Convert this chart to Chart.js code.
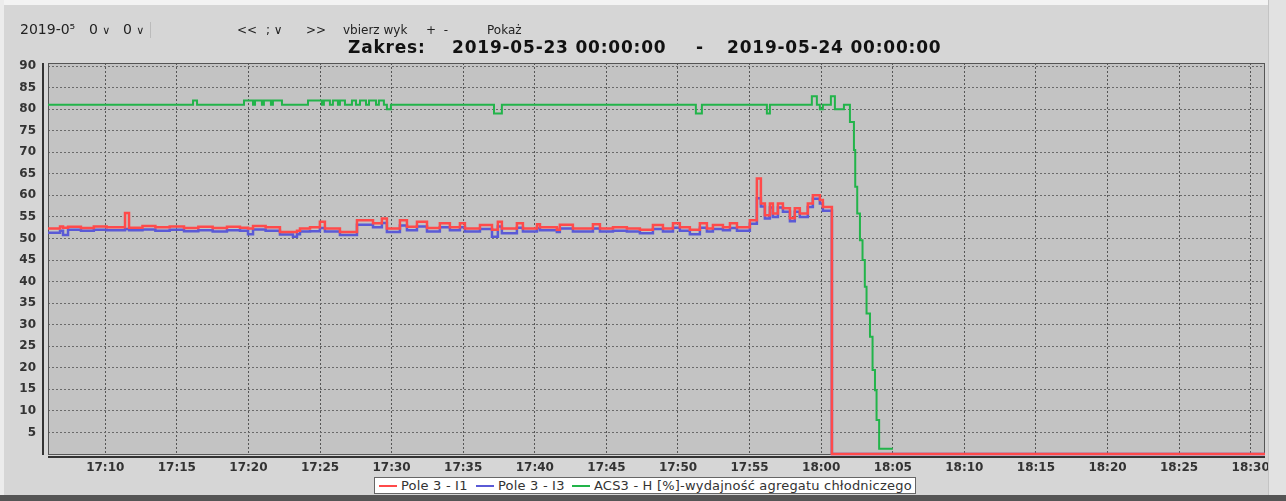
<!DOCTYPE html>
<html><head><meta charset="utf-8">
<script src="https://cdn.jsdelivr.net/npm/chart.js@4.4.1/dist/chart.umd.min.js"></script>
<style>
html,body{margin:0;padding:0;}
body{width:1286px;height:501px;position:relative;overflow:hidden;background:#d6d6d6;font-family:"DejaVu Sans",sans-serif;}
#c{position:absolute;left:0;top:0;}
.t{position:absolute;white-space:nowrap;line-height:16px;}
.tb{font-size:12px;color:#222;top:22px;}
.tb.big{font-size:14px;}
.ti{font-size:17px;font-weight:bold;color:#111;top:37px;line-height:20px;letter-spacing:0.8px;}
#legend{position:absolute;left:374px;top:477px;width:540px;height:15px;background:#fff;border:1px solid #666;font-size:13px;color:#333;line-height:15px;white-space:nowrap;}
#legend .sw{position:absolute;top:7px;width:18px;height:0;border-top:2px solid;}
#legend .lt{position:absolute;top:0;letter-spacing:0.2px;}
</style></head>
<body>
<canvas id="c" width="1286" height="501"></canvas>
<div style="position:absolute;left:0;top:0;width:1286px;height:5px;background:#f3f3f3"></div>
<div style="position:absolute;left:0;top:0;width:4px;height:501px;background:#ececec"></div>
<div style="position:absolute;left:1268px;top:0;width:18px;height:501px;background:#e2e2e2;border-left:1px solid #c4c4c4"></div>
<div style="position:absolute;left:0;top:495px;width:1286px;height:6px;background:#555"></div>

<div class="t tb big" style="left:20px;top:21px">2019-0⁵</div>
<div class="t tb big" style="left:89px;top:21px">0 <span style="font-size:11px">∨</span></div>
<div class="t tb big" style="left:123px;top:21px">0 <span style="font-size:11px">∨</span></div>
<div style="position:absolute;left:150px;top:22px;width:1px;height:16px;background:#bbb"></div>
<div class="t tb" style="left:237px">&lt;&lt;</div>
<div class="t tb" style="left:266px">; ∨</div>
<div class="t tb" style="left:306px">&gt;&gt;</div>
<div class="t tb" style="left:343px">vbierz wyk</div>
<div class="t tb" style="left:426px">+&nbsp;&nbsp;-</div>
<div class="t tb" style="left:487px">Pokaż</div>

<div class="t ti" style="left:348px">Zakres:</div>
<div class="t ti" style="left:452px">2019-05-23 00:00:00</div>
<div class="t ti" style="left:696px">-</div>
<div class="t ti" style="left:727px">2019-05-24 00:00:00</div>

<div id="legend">
<span class="sw" style="left:4px;border-color:#ff4a4a"></span><span class="lt" style="left:26px">Pole 3 - I1</span>
<span class="sw" style="left:101px;border-color:#5a5ad6"></span><span class="lt" style="left:123px">Pole 3 - I3</span>
<span class="sw" style="left:197px;border-color:#22b44a"></span><span class="lt" style="left:219px">ACS3 - H [%]-wydajność agregatu chłodniczego</span>
</div>

<script>
// ---- axis ----
const timeTicks = ["17:10","17:15","17:20","17:25","17:30","17:35","17:40","17:45","17:50","17:55","18:00","18:05","18:10","18:15","18:20","18:25","18:30"];
const timeStart = "17:06";
const timeEnd = "18:31";
const valueTicks = [5,10,15,20,25,30,35,40,45,50,55,60,65,70,75,80,85,90];

// ---- Pole 3 - I1 / I3 (time in minutes after 17:00) ----
const timeI = [6.00,6.84,7.05,7.40,8.30,9.20,10.10,11.38,11.66,12.60,13.50,14.50,15.50,16.50,17.50,18.50,19.41,19.97,20.32,21.20,22.20,23.11,23.39,23.60,24.30,24.99,25.34,26.39,27.58,28.70,29.32,29.67,30.58,31.07,31.77,32.47,33.37,34.07,34.77,35.12,36.17,37.01,37.42,37.70,38.75,39.17,40.15,40.36,41.54,41.75,42.66,44.06,44.55,45.46,46.43,47.34,48.25,48.95,49.65,50.13,50.83,51.53,52.02,52.44,53.14,53.63,54.12,55.02,55.51,55.79,56.07,56.42,56.63,56.98,57.33,57.82,58.16,58.51,59.07,59.42,59.91,60.12,60.75,91.00];
const pole3I1 = [52.3,52.8,52.5,52.7,52.4,52.8,52.6,55.9,52.5,52.9,52.6,52.8,52.4,52.7,52.4,52.7,52.5,52.3,52.9,52.6,51.5,51.5,51.8,52.3,52.6,53.9,52.3,51.5,54.2,53.5,54.6,52.3,54.2,52.7,53.9,52.4,53.5,52.6,53.5,52.3,53.1,52.0,53.9,52.3,53.5,52.3,53.3,52.6,52.0,53.2,52.3,53.3,52.3,52.6,52.3,52.0,53.1,52.3,53.5,52.6,52.0,53.5,52.3,53.1,52.6,53.5,52.6,54.2,63.9,58.1,55.4,58.1,55.8,58.1,57.0,54.7,57.0,55.8,58.1,60.0,58.9,57.3,0,0];
const pole3I3 = [51.3,51.8,50.8,52.0,51.8,52.0,51.9,52.2,51.9,52.1,51.8,52.0,51.7,51.9,51.6,51.9,51.8,51.0,52.1,51.8,50.9,50.4,51.0,51.6,51.7,52.4,51.6,50.8,53.2,52.6,53.6,51.5,53.0,51.9,52.8,51.6,52.6,51.9,52.6,51.6,52.2,50.4,52.8,51.2,52.5,51.6,52.4,51.9,51.5,52.3,51.6,52.3,51.6,51.8,51.6,51.2,52.2,51.6,52.5,51.8,51.0,52.5,51.6,52.2,51.9,52.4,51.8,53.4,59.3,57.4,54.6,57.2,55.0,57.2,56.2,54.0,56.2,55.0,57.3,59.2,58.1,56.4,0,0];

// ---- ACS3 - H [%] (time in minutes after 17:00) ----
const timeH = [6.00,16.13,16.41,19.69,20.32,20.46,20.94,21.08,21.57,21.71,22.34,24.16,25.13,25.27,25.69,25.90,26.25,26.39,26.74,27.23,27.51,27.79,28.21,28.42,28.91,29.11,29.46,29.67,29.95,37.15,37.70,51.25,51.67,56.21,56.42,59.35,59.70,59.91,60.12,60.68,60.96,61.59,62.01,62.29,62.38,62.52,62.71,62.89,63.05,63.17,63.41,63.59,63.76,63.87,64.05,65.01];
const acs3H = [81,82,81,82,81,82,81,82,81,82,81,82,81,82,81,82,81,82,81,82,81,82,81,82,81,82,81,80,81,79,81,79,81,79,81,83,81,80,81,83,80,81,77,70.5,62,55.8,49.6,45,38.8,32.6,27.2,19.5,14.8,7.9,1.2,1.2];

function toMin(s){const p=s.split(':').map(Number);return (p[0]-17)*60+p[1];}
function fmt(v){const tot=17*60+Math.round(v);const h=Math.floor(tot/60),m=tot%60;return h+':'+String(m).padStart(2,'0');}
const pts=(ts,vs)=>ts.map((t,i)=>({x:t,y:vs[i]}));

const PLOT_BG='#c3c3c3';
const framePlugin={
  id:'frame',
  beforeDraw(chart){
    const {ctx,chartArea:a}=chart;
    ctx.save();ctx.fillStyle=PLOT_BG;ctx.fillRect(a.left,a.top,a.right-a.left,a.bottom-a.top);ctx.restore();
  },
  beforeDatasetsDraw(chart){
    const {ctx,chartArea:a}=chart;
    ctx.save();
    ctx.strokeStyle='#555';ctx.lineWidth=1;
    ctx.strokeRect(a.left+0.5,a.top+0.5,a.right-a.left-1,a.bottom-a.top);
    ctx.strokeStyle='#333';ctx.lineWidth=2;
    ctx.beginPath();ctx.moveTo(a.left-5,a.top);ctx.lineTo(a.left-5,a.bottom+1);ctx.stroke();
    ctx.beginPath();ctx.moveTo(a.left,a.bottom+3);ctx.lineTo(a.right,a.bottom+3);ctx.stroke();
    ctx.restore();
  }
};

const tickFont={family:'DejaVu Sans',size:12,weight:'bold'};
new Chart(document.getElementById('c'),{
  type:'line',
  data:{datasets:[
    {label:'ACS3 - H [%]-wydajność agregatu chłodniczego',data:pts(timeH,acs3H),borderColor:'#22b44a',borderWidth:2,stepped:true,pointRadius:0,order:0,clip:false},
    {label:'Pole 3 - I1',data:pts(timeI,pole3I1),borderColor:'#ff4a4a',borderWidth:2.5,stepped:true,pointRadius:0,order:1,clip:false},
    {label:'Pole 3 - I3',data:pts(timeI,pole3I3),borderColor:'#5a5ad6',borderWidth:2.5,stepped:true,pointRadius:0,order:2,clip:false}
  ]},
  options:{
    responsive:false,animation:false,devicePixelRatio:1,
    layout:{padding:{left:0,right:21,top:63,bottom:0}},
    plugins:{legend:{display:false},tooltip:{enabled:false},title:{display:false}},
    scales:{
      x:{type:'linear',min:toMin(timeStart),max:toMin(timeEnd),
        afterBuildTicks:s=>{s.ticks=timeTicks.map(t=>({value:toMin(t)}));},
        afterFit:s=>{s.height=47;},
        ticks:{callback:v=>fmt(v),font:tickFont,color:'#333',padding:7,maxRotation:0,autoSkip:false},
        grid:{color:'#555',lineWidth:1,drawTicks:false},
        border:{display:false,dash:[2,2]}},
      y:{min:0,max:90.7,
        afterBuildTicks:s=>{s.ticks=[0].concat(valueTicks).map(v=>({value:v}));},
        afterFit:s=>{s.width=48;},
        ticks:{callback:v=>v===0?'':String(v),font:tickFont,color:'#333',padding:12},
        grid:{color:c=>c.tick&&c.tick.value===0?'rgba(0,0,0,0)':'#6a6a6a',lineWidth:1,drawTicks:false},
        border:{display:false,dash:[2,2]}}
    }
  },
  plugins:[framePlugin]
});
</script>
</body></html>
